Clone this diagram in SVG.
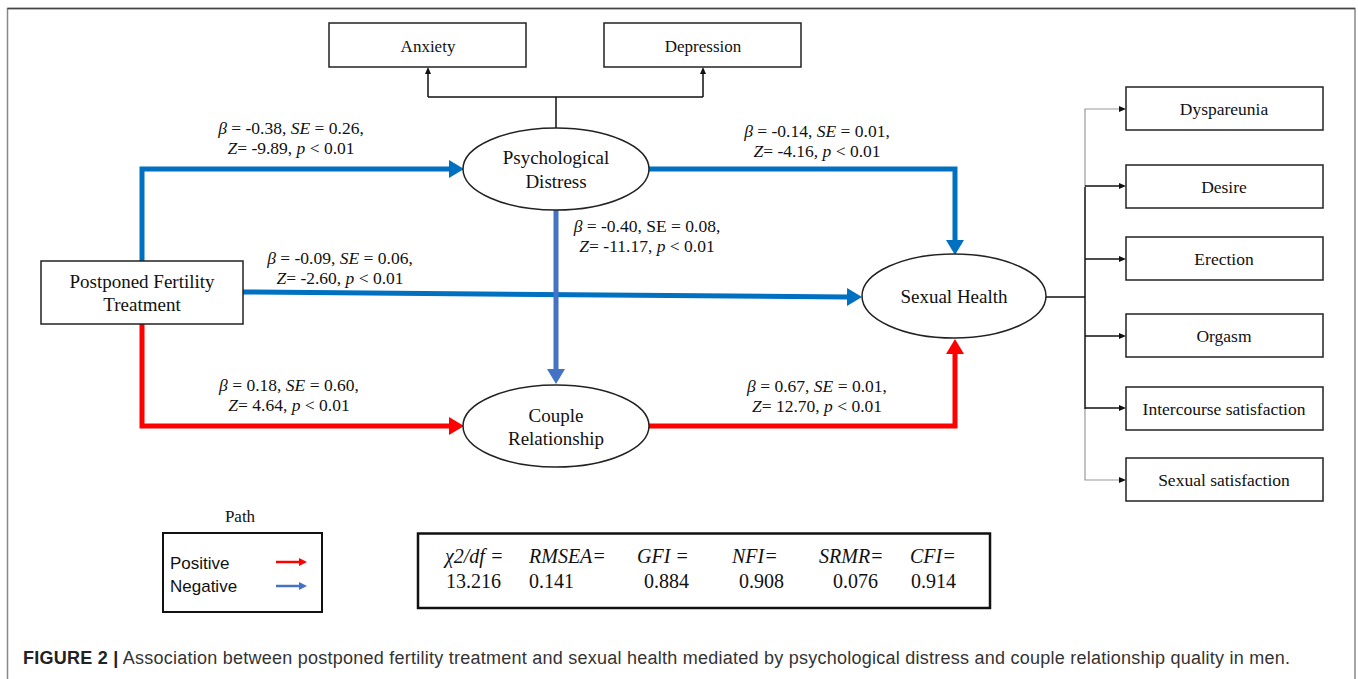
<svg xmlns="http://www.w3.org/2000/svg" width="1358" height="679" viewBox="0 0 1358 679">
<style>
.node{fill:#fff;stroke:#222;stroke-width:1.5}
.nt{font-family:"Liberation Serif",serif;font-size:17px;fill:#111;text-anchor:middle}
.nb{font-family:"Liberation Serif",serif;font-size:19px;fill:#111;text-anchor:middle}
.nr{font-family:"Liberation Serif",serif;font-size:17.5px;fill:#111;text-anchor:middle}
.lb{font-family:"Liberation Serif",serif;font-size:17.5px;fill:#111;text-anchor:middle}
.it{font-style:italic}
.blue{fill:none;stroke:#0070C0;stroke-width:5}
.blue2{fill:none;stroke:#4472C4;stroke-width:5}
.red{fill:none;stroke:#FF0000;stroke-width:5}
.thin{fill:none;stroke:#111;stroke-width:1.5}
.gray{fill:none;stroke:#999;stroke-width:1.2}
.fit{font-family:"Liberation Serif",serif;font-size:20px;fill:#111}
.leg{font-family:"Liberation Sans",sans-serif;font-size:17px;fill:#111}
.cap{font-family:"Liberation Sans",sans-serif;font-size:18px;fill:#333}
</style>
<defs>
<marker id="ab" markerWidth="16" markerHeight="18" refX="0" refY="9" orient="auto" markerUnits="userSpaceOnUse"><path d="M0,0 L15,9 L0,18 z" fill="#0070C0"/></marker>
<marker id="ab2" markerWidth="16" markerHeight="18" refX="0" refY="9" orient="auto" markerUnits="userSpaceOnUse"><path d="M0,0 L15,9 L0,18 z" fill="#4472C4"/></marker>
<marker id="ar" markerWidth="16" markerHeight="18" refX="0" refY="9" orient="auto" markerUnits="userSpaceOnUse"><path d="M0,0 L15,9 L0,18 z" fill="#FF0000"/></marker>
<marker id="ak" markerWidth="7" markerHeight="6" refX="0" refY="3" orient="auto" markerUnits="userSpaceOnUse"><path d="M0,0 L7,3 L0,6 z" fill="#111"/></marker>
<marker id="alr" markerWidth="8" markerHeight="8" refX="0" refY="4" orient="auto" markerUnits="userSpaceOnUse"><path d="M0,0 L8,4 L0,8 z" fill="#FF0000"/></marker>
<marker id="alb" markerWidth="8" markerHeight="8" refX="0" refY="4" orient="auto" markerUnits="userSpaceOnUse"><path d="M0,0 L8,4 L0,8 z" fill="#4472C4"/></marker>
</defs>
<rect width="1358" height="679" fill="#fff"/>
<!-- frame -->
<path d="M7.5,679 V8.5 H1355 V679" fill="none" stroke="#888" stroke-width="1.5"/>
<line x1="7.5" y1="8.5" x2="1355" y2="8.5" stroke="#444" stroke-width="1.5"/>

<g id="connectors">
<path class="blue" d="M142,261 V169 H449" marker-end="url(#ab)"/>
<path class="blue" d="M649,169 H955 V240" marker-end="url(#ab)"/>
<path class="blue" d="M243,292 L847,297" marker-end="url(#ab)"/>
<path class="blue2" d="M556,210 V369" marker-end="url(#ab2)"/>
<path class="red" d="M142,324 V426 H449" marker-end="url(#ar)"/>
<path class="red" d="M649,426 H955 V354" marker-end="url(#ar)"/>
<path class="thin" d="M556,128 V97"/>
<path class="thin" d="M428,97 H703"/>
<path class="thin" d="M428,97 V74" marker-end="url(#ak)"/>
<path class="thin" d="M703,97 V74" marker-end="url(#ak)"/>
<path class="thin" d="M1046,297 H1085"/>
<path class="thin" d="M1085,187 V409"/>
<path class="gray" d="M1085,187 V109 H1119" marker-end="url(#ak)"/>
<path class="gray" d="M1085,409 V480 H1119" marker-end="url(#ak)"/>
<path class="thin" d="M1085,186 H1119" marker-end="url(#ak)"/>
<path class="thin" d="M1085,259 H1119" marker-end="url(#ak)"/>
<path class="thin" d="M1085,336 H1119" marker-end="url(#ak)"/>
<path class="thin" d="M1085,408 H1119" marker-end="url(#ak)"/>
</g>

<g id="labels">
<text class="lb" x="291" y="134"><tspan class="it">β</tspan> = -0.38, <tspan class="it">SE</tspan> = 0.26,</text>
<text class="lb" x="291" y="154"><tspan class="it">Z</tspan>= -9.89, <tspan class="it">p</tspan> &lt; 0.01</text>
<text class="lb" x="817" y="137"><tspan class="it">β</tspan> = -0.14, <tspan class="it">SE</tspan> = 0.01,</text>
<text class="lb" x="817" y="157"><tspan class="it">Z</tspan>= -4.16<tspan class="it">, p</tspan> &lt; 0.01</text>
<text class="lb" x="647" y="232"><tspan class="it">β</tspan> = -0.40, SE = 0.08,</text>
<text class="lb" x="647" y="252"><tspan class="it">Z</tspan>= -11.17, <tspan class="it">p</tspan> &lt; 0.01</text>
<text class="lb" x="340" y="264"><tspan class="it">β</tspan> = -0.09, <tspan class="it">SE</tspan> = 0.06,</text>
<text class="lb" x="340" y="284"><tspan class="it">Z</tspan>= -2.60, <tspan class="it">p</tspan> &lt; 0.01</text>
<text class="lb" x="289" y="391"><tspan class="it">β</tspan> = 0.18, <tspan class="it">SE</tspan> = 0.60,</text>
<text class="lb" x="289" y="411"><tspan class="it">Z</tspan>= 4.64, <tspan class="it">p</tspan> &lt; 0.01</text>
<text class="lb" x="817" y="392"><tspan class="it">β</tspan> = 0.67, <tspan class="it">SE</tspan> = 0.01,</text>
<text class="lb" x="817" y="412"><tspan class="it">Z</tspan>= 12.70, <tspan class="it">p</tspan> &lt; 0.01</text>
</g>

<g id="anxiety"><rect class="node" x="329" y="23" width="197" height="44"/><text class="nt" x="428" y="52">Anxiety</text></g>
<g id="depression"><rect class="node" x="604" y="23" width="197" height="44"/><text class="nt" x="703" y="52">Depression</text></g>
<g id="psychological-distress"><ellipse class="node" cx="556" cy="169" rx="93" ry="41"/><text class="nb" x="556" y="164">Psychological</text><text class="nb" x="556" y="188">Distress</text></g>
<g id="postponed-fertility-treatment"><rect class="node" x="41" y="261" width="202" height="63"/><text class="nb" x="142" y="288">Postponed Fertility</text><text class="nb" x="142" y="311">Treatment</text></g>
<g id="sexual-health"><ellipse class="node" cx="954" cy="296" rx="92" ry="42"/><text class="nb" x="954" y="303">Sexual Health</text></g>
<g id="couple-relationship"><ellipse class="node" cx="556" cy="426" rx="93" ry="41"/><text class="nb" x="556" y="422">Couple</text><text class="nb" x="556" y="445">Relationship</text></g>
<g id="dyspareunia"><rect class="node" x="1126" y="87" width="197" height="43"/><text class="nr" x="1224" y="115">Dyspareunia</text></g>
<g id="desire"><rect class="node" x="1126" y="165" width="197" height="43"/><text class="nr" x="1224" y="193">Desire</text></g>
<g id="erection"><rect class="node" x="1126" y="237" width="197" height="43"/><text class="nr" x="1224" y="265">Erection</text></g>
<g id="orgasm"><rect class="node" x="1126" y="314" width="197" height="43"/><text class="nr" x="1224" y="342">Orgasm</text></g>
<g id="intercourse-satisfaction"><rect class="node" x="1126" y="387" width="197" height="43"/><text class="nr" x="1224" y="415">Intercourse satisfaction</text></g>
<g id="sexual-satisfaction"><rect class="node" x="1126" y="458" width="197" height="43"/><text class="nr" x="1224" y="486">Sexual satisfaction</text></g>

<g id="legend">
<text class="nt" x="240" y="522">Path</text>
<rect x="163" y="533" width="159" height="79" fill="none" stroke="#111" stroke-width="2"/>
<text class="leg" x="170" y="569">Positive</text>
<text class="leg" x="170" y="592">Negative</text>
<path d="M276,562 H299" stroke="#FF0000" stroke-width="2.5" fill="none" marker-end="url(#alr)"/>
<path d="M276,586 H299" stroke="#4472C4" stroke-width="2.5" fill="none" marker-end="url(#alb)"/>
</g>

<g id="fit-indices">
<rect x="418" y="533.5" width="572" height="74.5" fill="none" stroke="#111" stroke-width="2.5"/>
<text class="fit it" x="445" y="563">χ2/df =</text>
<text class="fit it" x="529" y="563">RMSEA=</text>
<text class="fit it" x="637" y="563">GFI =</text>
<text class="fit it" x="732" y="563">NFI=</text>
<text class="fit it" x="819" y="563">SRMR=</text>
<text class="fit it" x="910" y="563">CFI=</text>
<text class="fit" x="446" y="588">13.216</text>
<text class="fit" x="529" y="588">0.141</text>
<text class="fit" x="644" y="588">0.884</text>
<text class="fit" x="739" y="588">0.908</text>
<text class="fit" x="833" y="588">0.076</text>
<text class="fit" x="911" y="588">0.914</text>
</g>

<text class="cap" x="23" y="664" textLength="1267" lengthAdjust="spacing"><tspan font-weight="bold" fill="#222">FIGURE 2 |</tspan> Association between postponed fertility treatment and sexual health mediated by psychological distress and couple relationship quality in men.</text>
</svg>
